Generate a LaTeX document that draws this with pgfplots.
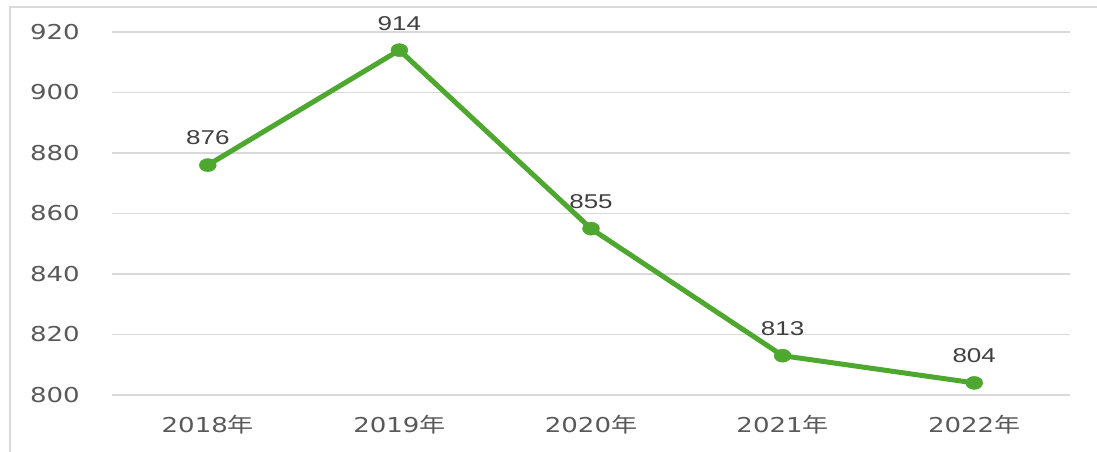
\documentclass[border=0pt]{standalone}
\usepackage{pgfplots}
\pgfplotsset{compat=1.18}
\usepackage{fontspec}
\setmainfont[FakeStretch=1.27]{DejaVu Sans}
\newfontfamily\lab[FakeStretch=1.3]{Liberation Sans}
\newfontfamily\cjk[FakeStretch=1.27]{Noto Sans CJK SC}
\definecolor{txt}{HTML}{595959}
\definecolor{gridc}{HTML}{D9D9D9}
\definecolor{lgreen}{HTML}{4EA72E}
\begin{document}
\begin{tikzpicture}[x=1pt,y=1pt]
\draw[gridc, line width=2pt] (10,-10) -- (10,444) -- (1110,444);
\begin{axis}[
  at={(112pt,56pt)}, anchor=south west,
  scale only axis, width=958pt, height=363pt,
  xmin=0.5, xmax=5.5, ymin=800, ymax=920,
  xtick={1,2,3,4,5},
  xticklabels={2018{\cjk 年},2019{\cjk 年},2020{\cjk 年},2021{\cjk 年},2022{\cjk 年}},
  ytick={800,820,...,920},
  xmajorgrids=false, ymajorgrids=true,
  major grid style={draw=gridc, line width=1.5pt},
  axis line style={draw=none}, tick style={draw=none},
  /pgf/number format/assume math mode=true,
  /pgf/number format/1000 sep={},
  ticklabel style={font=\fontsize{20.5}{24}\selectfont, text=txt, inner sep=0pt},
  yticklabel style={anchor=east, xshift=-32pt},
  xticklabel style={anchor=center, yshift=-30pt},
  clip=false,
  nodes near coords,
  every node near coord/.append style={font=\lab\fontsize{20}{24}\selectfont, text=black!75, anchor=center, yshift=27pt, inner sep=0pt},
]
\addplot[lgreen, line width=5pt, mark=*, mark size=6.5pt,
  mark options={solid, xscale=1.3, draw=lgreen, fill=lgreen, line width=0.5pt}]
  coordinates {(1,876) (2,914) (3,855) (4,813) (5,804)};
\end{axis}
\pgfresetboundingbox
\useasboundingbox (0,0) rectangle (1097,451);
\end{tikzpicture}
\end{document}
